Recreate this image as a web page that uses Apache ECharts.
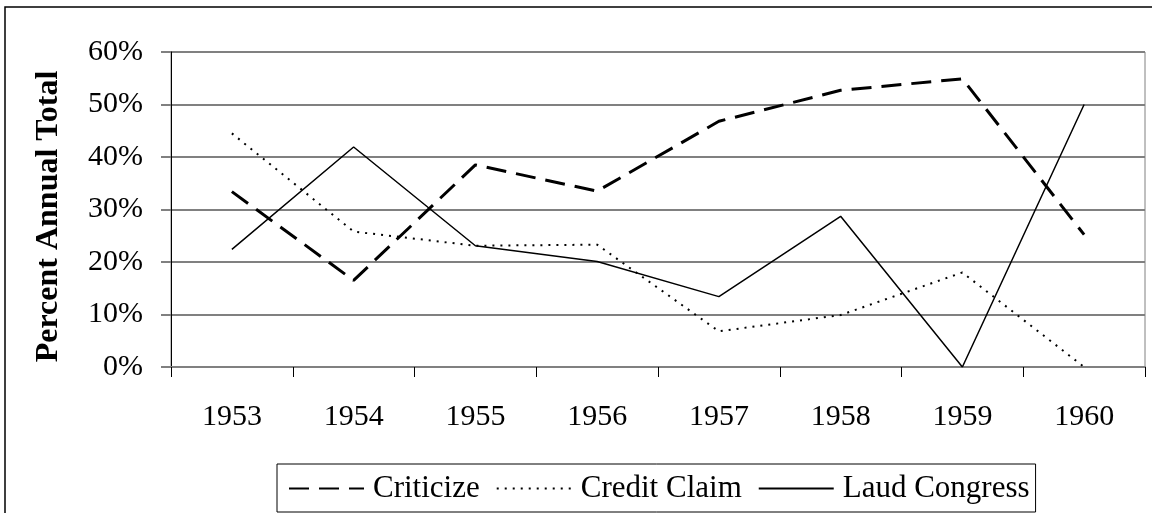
<!DOCTYPE html>
<html>
<head>
<meta charset="utf-8">
<script src="https://cdn.jsdelivr.net/npm/echarts@6/dist/echarts.min.js"></script>
<style>
  html, body { margin: 0; padding: 0; background: #fff; }
  #chart { width: 1152px; height: 513px; }
</style>
</head>
<body>
<div id="chart"></div>
<script>
// data
var years = ['1953', '1954', '1955', '1956', '1957', '1958', '1959', '1960'];
var criticize = [0.334, 0.165, 0.385, 0.335, 0.468, 0.527, 0.549, 0.252];
var creditClaim = [0.445, 0.258, 0.231, 0.233, 0.068, 0.099, 0.180, 0.0];
var laudCongress = [0.224, 0.419, 0.231, 0.201, 0.134, 0.287, 0.0, 0.50];

var serif = '"Liberation Serif", "Times New Roman", serif';

var mychart = echarts.init(document.getElementById('chart'));
var option = {
  animation: false,
  backgroundColor: '#fff',
  textStyle: { fontFamily: serif, color: '#000' },
  graphic: [
    {
      type: 'rect',
      shape: { x: 5, y: 7, width: 1200, height: 600 },
      style: { fill: 'none', stroke: '#000', lineWidth: 1.5 }
    }
  ],
  grid: {
    left: 171, right: 7, top: 52, bottom: 146,
    show: true, borderColor: '#808080', borderWidth: 1
  },
  legend: {
    left: 277, top: 464,
    padding: [9, 6, 8, 11],
    itemGap: 16,
    itemWidth: 75,
    itemHeight: 14,
    borderColor: '#000',
    borderWidth: 1,
    borderRadius: 0,
    itemStyle: { opacity: 0 },
    textStyle: { fontFamily: serif, fontSize: 31, color: '#000', padding: [0, 0, 0, 4] },
    data: ['Criticize', 'Credit Claim', 'Laud Congress']
  },
  xAxis: {
    type: 'category',
    data: years,
    boundaryGap: true,
    axisLine: { lineStyle: { color: '#808080', width: 2 } },
    axisTick: { show: true, length: 10, lineStyle: { color: '#000', width: 1 } },
    axisLabel: { fontFamily: serif, fontSize: 30, color: '#000', margin: 35 }
  },
  yAxis: {
    type: 'value',
    min: 0, max: 0.6, interval: 0.1,
    name: 'Percent Annual Total',
    nameLocation: 'middle',
    nameRotate: 90,
    nameGap: 106,
    nameTextStyle: { fontFamily: serif, fontSize: 32, fontWeight: 'bold', color: '#000', padding: [0, 14, 0, 0] },
    axisLine: { show: true, lineStyle: { color: '#000', width: 1 } },
    axisTick: { show: true, length: 10, lineStyle: { color: '#808080', width: 2 } },
    splitLine: { show: true, lineStyle: { color: '#808080', width: 2 } },
    axisLabel: {
      fontFamily: serif, fontSize: 30, color: '#000', margin: 28,
      formatter: function (v) { return Math.round(v * 100) + '%'; }
    }
  },
  series: [
    {
      name: 'Criticize', type: 'line', data: criticize,
      symbol: 'none',
      lineStyle: { color: '#000', width: 3, type: [20, 10] },
      itemStyle: { color: '#000' }
    },
    {
      name: 'Credit Claim', type: 'line', data: creditClaim,
      symbol: 'none',
      lineStyle: { color: '#000', width: 2, type: [2, 6] },
      itemStyle: { color: '#000' }
    },
    {
      name: 'Laud Congress', type: 'line', data: laudCongress,
      symbol: 'none',
      lineStyle: { color: '#000', width: 1.5, type: 'solid' },
      itemStyle: { color: '#000' }
    }
  ]
};
mychart.setOption(option);
</script>
</body>
</html>
